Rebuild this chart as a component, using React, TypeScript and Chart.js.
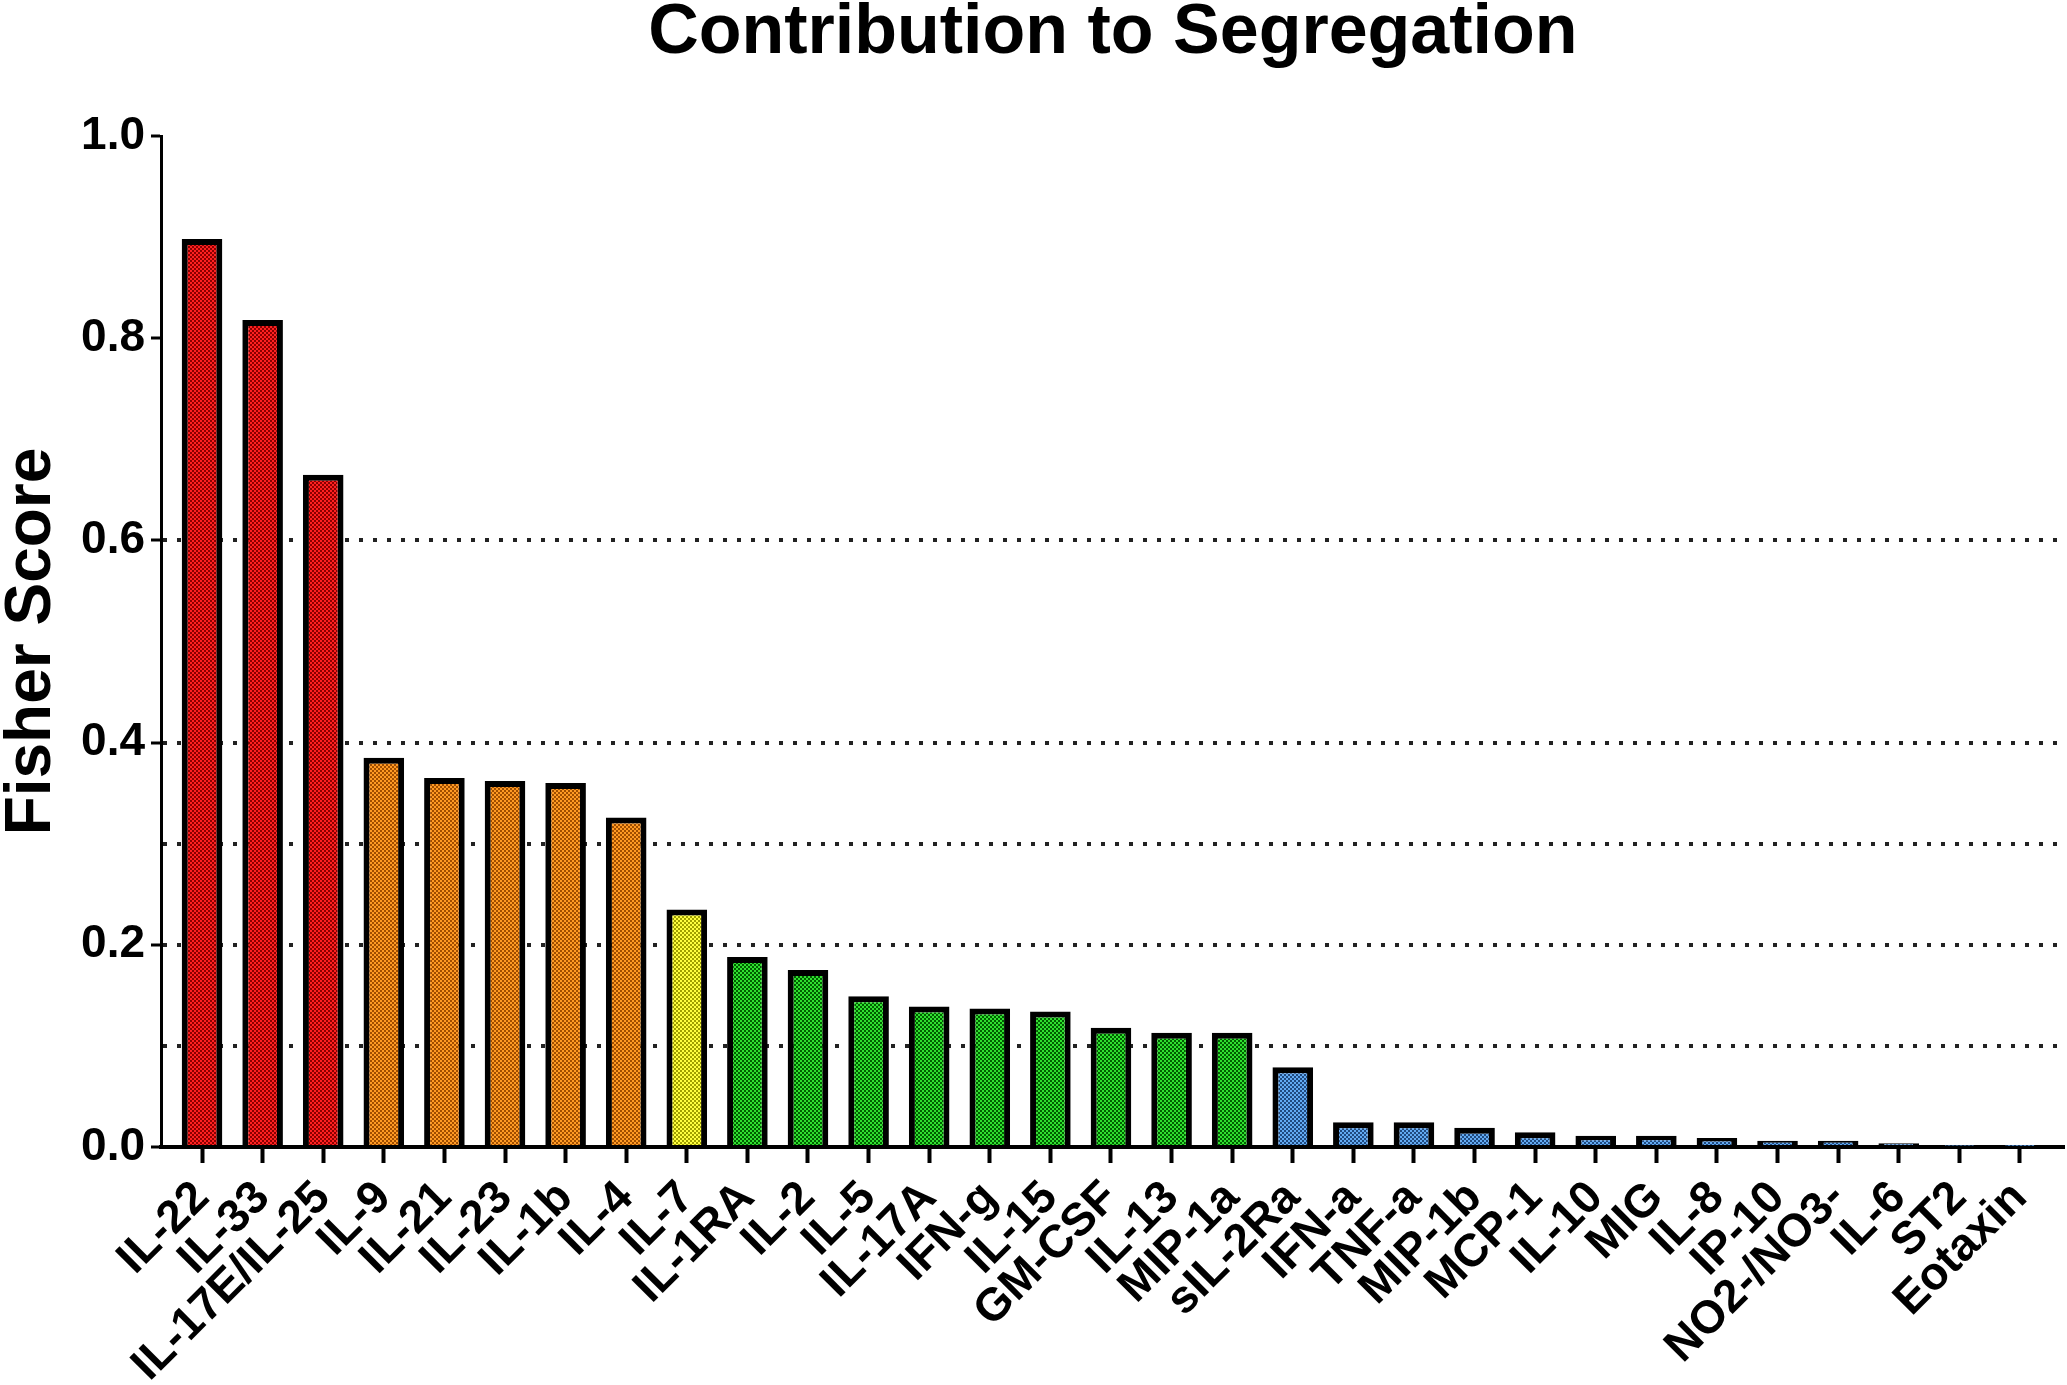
import { useEffect, useRef } from "react"
import { Chart, registerables } from "chart.js"

Chart.register(...registerables)

// data
const cytokines = [
  "IL-22", "IL-33", "IL-17E/IL-25", "IL-9", "IL-21", "IL-23", "IL-1b", "IL-4", "IL-7",
  "IL-1RA", "IL-2", "IL-5", "IL-17A", "IFN-g", "IL-15", "GM-CSF", "IL-13", "MIP-1a",
  "sIL-2Ra", "IFN-a", "TNF-a", "MIP-1b", "MCP-1", "IL-10", "MIG", "IL-8", "IP-10",
  "NO2-/NO3-", "IL-6", "ST2", "Eotaxin",
]
const fisherScores = [
  0.898, 0.818, 0.665, 0.385, 0.365, 0.362, 0.36, 0.326, 0.235,
  0.188, 0.175, 0.149, 0.139, 0.137, 0.134, 0.118, 0.113, 0.113,
  0.079, 0.0245, 0.0245, 0.019, 0.0145, 0.0112, 0.0112, 0.009, 0.0063,
  0.0063, 0.0036, 0.001, 0.0007,
]
// colour group of each cytokine (0 red, 1 orange, 2 yellow, 3 green, 4 blue)
const tiers = [0, 0, 0, 1, 1, 1, 1, 1, 2, 3, 3, 3, 3, 3, 3, 3, 3, 3, 4, 4, 4, 4, 4, 4, 4, 4, 4, 4, 4, 4, 4]
const yTickLabels = ["0.0", "0.2", "0.4", "0.6", "0.8", "1.0"]
const dottedLines = [0.1, 0.2, 0.3, 0.4, 0.6]

const palette = [
  ["#ff2020", "#8a0000"],
  ["#ff9a24", "#a04e00"],
  ["#ffff40", "#a0a000"],
  ["#30e030", "#006000"],
  ["#62aaf2", "#204a80"],
]

Chart.defaults.font.family = '"Liberation Sans", Arial, sans-serif'

function makePattern(ctx: CanvasRenderingContext2D, light: string, dark: string) {
  const tile = document.createElement("canvas")
  tile.width = 4
  tile.height = 4
  const t = tile.getContext("2d")!
  t.fillStyle = dark
  t.fillRect(0, 0, 4, 4)
  t.fillStyle = light
  t.fillRect(0, 0, 2, 2)
  t.fillRect(2, 2, 2, 2)
  return ctx.createPattern(tile, "repeat")!
}

const near = (a: number, b: number) => Math.abs(a - b) < 1e-6

const titlePlugin = {
  id: "topTitle",
  afterDraw(chart: Chart) {
    const { ctx, chartArea } = chart
    ctx.save()
    ctx.font = 'bold 70px "Liberation Sans", Arial, sans-serif'
    ctx.fillStyle = "#000"
    ctx.textAlign = "center"
    ctx.textBaseline = "middle"
    ctx.fillText("Contribution to Segregation", (chartArea.left + chartArea.right) / 2, 34)
    ctx.restore()
  },
}

export default function App() {
  const chartRef = useRef<HTMLCanvasElement>(null)
  const chartInstance = useRef<Chart | null>(null)

  useEffect(() => {
    document.body.style.margin = "0"
    if (!chartRef.current) return
    if (chartInstance.current) chartInstance.current.destroy()
    const ctx = chartRef.current.getContext("2d")
    if (!ctx) return

    const patterns = palette.map(([light, dark]) => makePattern(ctx, light, dark))

    chartInstance.current = new Chart(ctx, {
      type: "bar",
      data: {
        datasets: [
          {
            data: fisherScores.map((y, i) => ({ x: i, y })),
            backgroundColor: tiers.map((t) => patterns[t]),
            borderColor: "#000",
            borderWidth: 6,
            barPercentage: 0.67,
            categoryPercentage: 1,
          },
        ],
      },
      options: {
        responsive: false,
        animation: false,
        devicePixelRatio: 1,
        layout: { padding: { top: 136, right: 2, left: 0, bottom: 0 } },
        plugins: {
          legend: { display: false },
          tooltip: { enabled: false },
        },
        scales: {
          x: {
            type: "linear",
            bounds: "data",
            offset: false,
            min: -0.677,
            max: 30.74,
            afterBuildTicks: (scale: any) => {
              scale.ticks = cytokines.map((_, i) => ({ value: i }))
            },
            afterFit: (scale: any) => {
              scale.height = 238
            },
            ticks: {
              autoSkip: false,
              minRotation: 45,
              maxRotation: 45,
              padding: 8,
              color: "#000",
              font: { size: 46, weight: "bold" },
              callback: (v: any) => cytokines[v as number] ?? "",
            },
            grid: {
              offset: false,
              drawOnChartArea: false,
              drawTicks: true,
              tickLength: 16,
              tickWidth: 4,
              tickColor: "#000",
            },
            border: { color: "#000", width: 4 },
          },
          y: {
            min: 0,
            max: 1,
            afterFit: (scale: any) => {
              scale.width = 161
            },
            ticks: {
              stepSize: 0.1,
              autoSkip: false,
              padding: 6,
              color: "#000",
              font: { size: 46, weight: "bold" },
              callback: (v: any) => {
                const s = Number(v).toFixed(1)
                return yTickLabels.includes(s) ? s : ""
              },
            },
            grid: {
              color: (c: any) => (dottedLines.some((d) => near(d, c.tick.value)) ? "#222" : "transparent"),
              lineWidth: 4,
              tickColor: (c: any) =>
                yTickLabels.includes(Number(c.tick.value).toFixed(1)) ? "#000" : "transparent",
              tickLength: 10,
              tickWidth: 3,
              tickBorderDash: [],
            },
            border: { color: "#000", width: 3, dash: [4, 10] },
            title: {
              display: true,
              text: "Fisher Score",
              color: "#000",
              font: { size: 64, weight: "bold", lineHeight: 1 },
              padding: 0,
            },
          },
        },
      },
      plugins: [titlePlugin],
    })

    return () => {
      if (chartInstance.current) {
        chartInstance.current.destroy()
        chartInstance.current = null
      }
    }
  }, [])

  return (
    <div style={{ width: 2067, height: 1385 }}>
      <canvas ref={chartRef} width={2067} height={1385} />
    </div>
  )
}
